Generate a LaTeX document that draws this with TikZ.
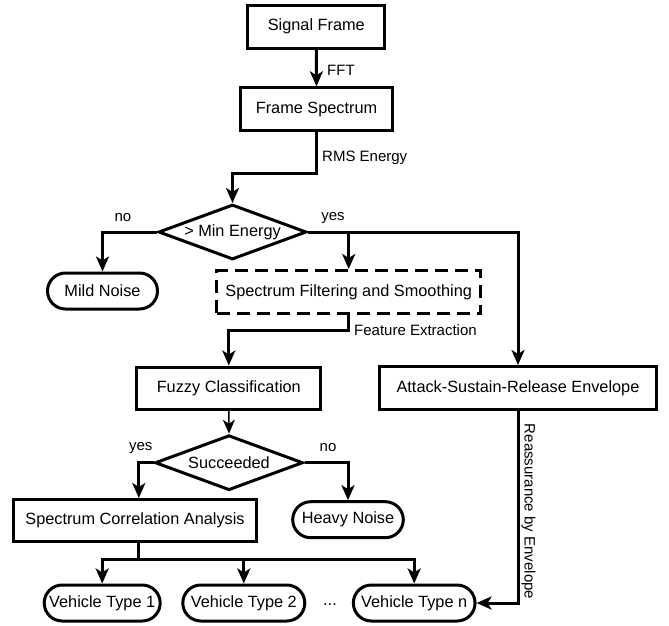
\documentclass[tikz,border=0pt]{standalone}
\usepackage{fontspec}
\setmainfont{Liberation Sans}
\usetikzlibrary{arrows.meta,shapes.geometric,calc}
\tikzset{
  mainfont/.style={font=\fontsize{16.3}{19}\selectfont},
  lblfont/.style={font=\fontsize{15}{18}\selectfont},
  procbox/.style={draw, line width=3pt, inner sep=0pt, mainfont, minimum height=43pt},
  termbox/.style={draw, line width=3pt, inner sep=0pt, mainfont, minimum height=36pt, rounded corners=18pt},
  dashbox/.style={procbox, dash pattern=on 13pt off 7pt},
  decbox/.style={draw, diamond, line width=3pt, inner sep=0pt, mainfont, aspect=2.7, minimum width=148pt, minimum height=55pt},
  conn/.style={line width=3pt, -{Stealth[length=15pt,width=13pt,inset=4pt]}},
  plain/.style={line width=3pt},
  thinconn/.style={line width=1.5pt, -{Stealth[length=14pt,width=12pt,inset=4pt]}},
  lbl/.style={lblfont, inner sep=0pt}
}
\begin{document}
\begin{tikzpicture}[x=1pt,y=-1pt]
\useasboundingbox (0,0) rectangle (669,625);
% nodes
\node[procbox, minimum width=137pt] (sig) at (316.3,26.5) {Signal Frame};
\node[procbox, minimum width=151.7pt] (spec) at (316.5,109.3) {Frame Spectrum};
\node[decbox] (dec1) at (232.5,232) {> Min Energy};
\node[termbox, minimum width=110pt] (mild) at (102.5,291) {Mild Noise};
\node[dashbox, minimum width=264pt] (filt) at (348.7,292) {Spectrum Filtering and Smoothing};
\node[procbox, minimum width=184pt, minimum height=42pt] (fuzzy) at (228.8,388) {Fuzzy Classification};
\node[procbox, minimum width=277pt] (asr) at (518,388) {Attack-Sustain-Release Envelope};
\node[decbox] (dec2) at (229,462.7) {Succeeded};
\node[termbox, minimum width=110.6pt] (heavy) at (348,519.7) {Heavy Noise};
\node[procbox, minimum width=243pt, minimum height=42pt] (corr) at (135,520.5) {Spectrum Correlation Analysis};
\node[termbox, minimum width=116pt] (v1) at (102.2,603) {Vehicle Type 1};
\node[termbox, minimum width=122pt] (v2) at (243.8,603) {Vehicle Type 2};
\node[mainfont, inner sep=0pt] (dots) at (330,605) {...};
\node[termbox, minimum width=121.7pt] (vn) at (414.2,603) {Vehicle Type n};
% coordinates
\coordinate (rms) at (316.5,173);
\coordinate (fe) at (348.7,330);
\coordinate (cx) at (138.8,0);
\coordinate (bus) at (0,559.3);
% connectors
\draw[conn] (sig.south) -- (spec.north);
\draw[conn] (spec.south) -- (rms) -| (dec1.north);
\draw[conn] (dec1.west) -| (mild.north);
\draw[conn] (dec1.east) -| (asr.north);
\draw[conn] (filt.north |- dec1.east) -- (filt.north);
\draw[conn] (filt.south) -- (fe) -| (fuzzy.north);
\draw[thinconn] (fuzzy.south) -- (dec2.north);
\draw[conn] (dec2.west) -| (cx |- corr.north);
\draw[conn] (dec2.east) -| (heavy.north);
\draw[plain] (cx |- corr.south) -- (cx |- bus);
\draw[plain, line cap=rect] (v1.north |- bus) -- (vn.north |- bus);
\draw[conn] (v1.north |- bus) -- (v1.north);
\draw[conn] (v2.north |- bus) -- (v2.north);
\draw[conn] (vn.north |- bus) -- (vn.north);
\draw[conn] (asr.south) |- (vn.east);
% labels
\node[lbl, anchor=west] (lfft) at (327,70) {FFT};
\node[lbl, anchor=west] (lrms) at (322,158) {RMS Energy};
\node[lbl] (lno1) at (123,218) {no};
\node[lbl] (lyes1) at (333,218) {yes};
\node[lbl, anchor=west] (lfe) at (354,330) {Feature Extraction};
\node[lbl] (lyes2) at (140.7,448) {yes};
\node[lbl] (lno2) at (328,448) {no};
\node[lbl, rotate=-90] (lre) at (528.5,511.5) {Reassurance by Envelope};
\end{tikzpicture}
\end{document}
